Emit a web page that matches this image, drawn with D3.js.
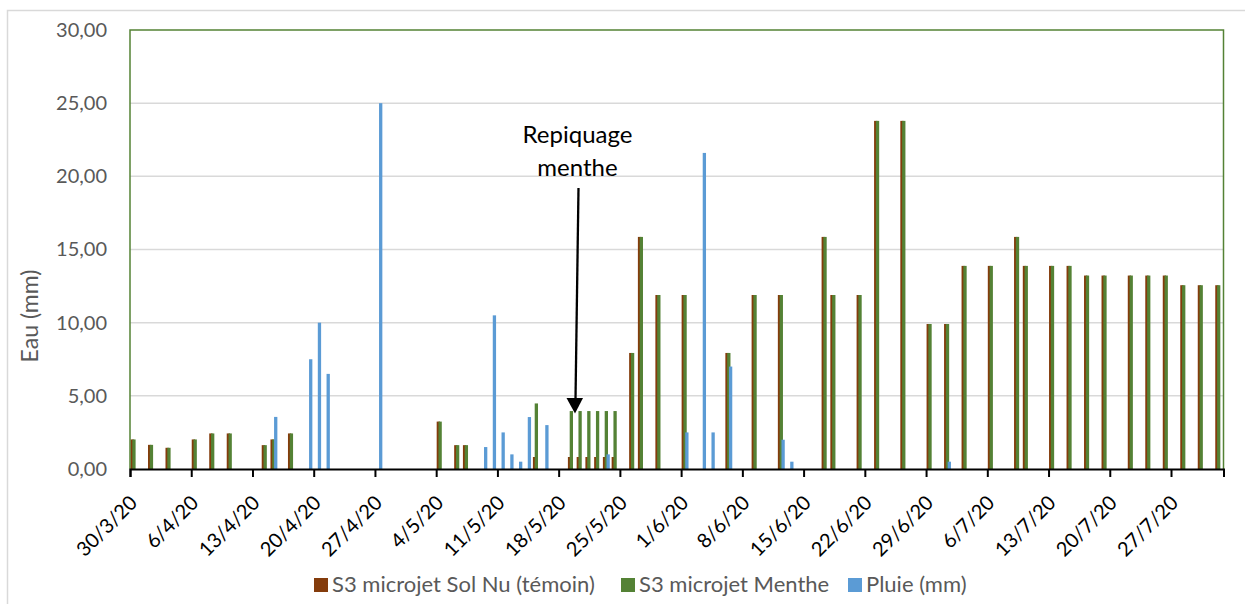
<!DOCTYPE html>
<html>
<head>
<meta charset="utf-8">
<script src="https://cdn.jsdelivr.net/npm/d3@7"></script>
<style>
  body { margin: 0; background: #fff; }
  svg { display: block; font-family: Lato, "Open Sans", sans-serif; }
</style>
</head>
<body>
<div id="chart"></div>
<script>
// categories: one per day, 30/3/20 -> 1/8/20
var firstDay = "30/3/20",
    lastDay = "1/8/20";

var tickLabels = ["30/3/20", "6/4/20", "13/4/20", "20/4/20", "27/4/20", "4/5/20",
  "11/5/20", "18/5/20", "25/5/20", "1/6/20", "8/6/20", "15/6/20", "22/6/20",
  "29/6/20", "6/7/20", "13/7/20", "20/7/20", "27/7/20"];

var yTicks = [0, 5, 10, 15, 20, 25, 30];

// S3 microjet Sol Nu (témoin)
var solNu = [
  ["30/3/20", 2.02], ["1/4/20", 1.65], ["3/4/20", 1.45], ["6/4/20", 2.02],
  ["8/4/20", 2.43], ["10/4/20", 2.43], ["14/4/20", 1.63], ["15/4/20", 2.02],
  ["17/4/20", 2.43], ["4/5/20", 3.24], ["6/5/20", 1.63], ["7/5/20", 1.63],
  ["15/5/20", 0.82], ["19/5/20", 0.82], ["20/5/20", 0.82], ["21/5/20", 0.82],
  ["22/5/20", 0.82], ["23/5/20", 0.82], ["24/5/20", 0.82],
  ["26/5/20", 7.93], ["27/5/20", 15.86], ["29/5/20", 11.89], ["1/6/20", 11.89],
  ["6/6/20", 7.93], ["9/6/20", 11.89], ["12/6/20", 11.89], ["17/6/20", 15.86],
  ["18/6/20", 11.89], ["21/6/20", 11.89], ["23/6/20", 23.79], ["26/6/20", 23.79],
  ["29/6/20", 9.91], ["1/7/20", 9.91], ["3/7/20", 13.88], ["6/7/20", 13.88],
  ["9/7/20", 15.86], ["10/7/20", 13.88], ["13/7/20", 13.88], ["15/7/20", 13.88],
  ["17/7/20", 13.22], ["19/7/20", 13.22], ["22/7/20", 13.22], ["24/7/20", 13.22],
  ["26/7/20", 13.22], ["28/7/20", 12.56], ["30/7/20", 12.56], ["1/8/20", 12.56]
];

// S3 microjet Menthe
var menthe = [
  ["30/3/20", 2.02], ["1/4/20", 1.65], ["3/4/20", 1.45], ["6/4/20", 2.02],
  ["8/4/20", 2.43], ["10/4/20", 2.43], ["14/4/20", 1.63], ["15/4/20", 2.02],
  ["17/4/20", 2.43], ["4/5/20", 3.24], ["6/5/20", 1.63], ["7/5/20", 1.63],
  ["15/5/20", 4.48], ["19/5/20", 3.96], ["20/5/20", 3.96], ["21/5/20", 3.96],
  ["22/5/20", 3.96], ["23/5/20", 3.96], ["24/5/20", 3.96],
  ["26/5/20", 7.93], ["27/5/20", 15.86], ["29/5/20", 11.89], ["1/6/20", 11.89],
  ["6/6/20", 7.93], ["9/6/20", 11.89], ["12/6/20", 11.89], ["17/6/20", 15.86],
  ["18/6/20", 11.89], ["21/6/20", 11.89], ["23/6/20", 23.79], ["26/6/20", 23.79],
  ["29/6/20", 9.91], ["1/7/20", 9.91], ["3/7/20", 13.88], ["6/7/20", 13.88],
  ["9/7/20", 15.86], ["10/7/20", 13.88], ["13/7/20", 13.88], ["15/7/20", 13.88],
  ["17/7/20", 13.22], ["19/7/20", 13.22], ["22/7/20", 13.22], ["24/7/20", 13.22],
  ["26/7/20", 13.22], ["28/7/20", 12.56], ["30/7/20", 12.56], ["1/8/20", 12.56]
];

// Pluie (mm)
var pluie = [
  ["15/4/20", 3.56], ["19/4/20", 7.5], ["20/4/20", 10.0], ["21/4/20", 6.5],
  ["27/4/20", 25.0], ["9/5/20", 1.5], ["10/5/20", 10.5], ["11/5/20", 2.5],
  ["12/5/20", 1.0], ["13/5/20", 0.5], ["14/5/20", 3.55], ["16/5/20", 3.0],
  ["23/5/20", 1.0], ["1/6/20", 2.5], ["3/6/20", 21.6], ["4/6/20", 2.5],
  ["6/6/20", 7.0], ["12/6/20", 2.0], ["13/6/20", 0.5], ["1/7/20", 0.5]
];

var seriesNames = ["S3 microjet Sol Nu (témoin)", "S3 microjet Menthe", "Pluie (mm)"];
var seriesColors = ["#843c0c", "#548235", "#5b9bd5"];

var width = 1245,
    height = 604;

var plot = { left: 130, right: 1223.5, top: 30, bottom: 469 };

var parse = d3.utcParse("%d/%m/%y"),
    fmt = d3.utcFormat("%-d/%-m/%y");

var start = parse(firstDay),
    end = d3.utcDay.offset(parse(lastDay), 1);
var days = d3.utcDay.range(start, end).map(fmt);

var svg = d3.select("#chart").append("svg")
    .attr("width", width)
    .attr("height", height);

// outer chart border
svg.append("rect")
    .attr("x", 7.5).attr("y", 10.5)
    .attr("width", 1260).attr("height", 620)
    .attr("fill", "none")
    .attr("stroke", "#d9d9d9")
    .attr("stroke-width", 1.5);

var x = d3.scaleBand()
    .domain(days)
    .range([plot.left, plot.right])
    .padding(0);

var xTime = d3.scaleUtc()
    .domain([start, end])
    .range([plot.left, plot.right]);

var y = d3.scaleLinear()
    .domain([0, 30])
    .range([plot.bottom, plot.top]);

// offset of each series inside a day (bars overlap like in Excel)
var xs = d3.scalePoint()
    .domain(seriesNames)
    .range([0.5, 4.1]);
var barW = 3.3;

// gridlines
svg.append("g")
  .selectAll("line")
  .data(yTicks.filter(function(d) { return d > 0 && d < 30; }))
  .enter().append("line")
    .attr("x1", plot.left).attr("x2", plot.right)
    .attr("y1", function(d) { return y(d); })
    .attr("y2", function(d) { return y(d); })
    .attr("stroke", "#d9d9d9")
    .attr("stroke-width", 1.5);

// bars
[solNu, menthe, pluie].forEach(function(data, i) {
  svg.append("g")
      .attr("fill", seriesColors[i])
    .selectAll("rect")
    .data(data)
    .enter().append("rect")
      .attr("x", function(d) { return x(d[0]) + xs(seriesNames[i]); })
      .attr("width", barW)
      .attr("y", function(d) { return y(d[1]); })
      .attr("height", function(d) { return y(0) - y(d[1]); });
});

// plot border (left, top, right) in green
svg.append("path")
    .attr("d", "M" + plot.left + "," + plot.bottom + "V" + plot.top + "H" + plot.right + "V" + plot.bottom)
    .attr("fill", "none")
    .attr("stroke", "#548235")
    .attr("stroke-width", 1.5);

// y axis labels
var yAxis = svg.append("g")
    .attr("transform", "translate(" + plot.left + ",0)")
    .call(d3.axisLeft(y)
      .tickValues(yTicks)
      .tickSize(0)
      .tickPadding(23)
      .tickFormat(function(d) { return d3.format(".2f")(d).replace(".", ","); }));
yAxis.select(".domain").remove();
yAxis.selectAll("text")
    .attr("font-family", "Lato, sans-serif")
    .attr("font-size", 20)
    .attr("fill", "#595959");

// x axis
var xAxis = svg.append("g")
    .attr("transform", "translate(0," + plot.bottom + ")")
    .call(d3.axisBottom(xTime)
      .tickValues(tickLabels.map(parse))
      .tickSizeOuter(0)
      .tickSize(8)
      .tickFormat(fmt));
xAxis.select(".domain")
    .attr("stroke", "#000")
    .attr("stroke-width", 2);
xAxis.selectAll(".tick line")
    .attr("stroke", "#000")
    .attr("stroke-width", 2);
xAxis.selectAll("text")
    .attr("font-family", "Lato, sans-serif")
    .attr("font-size", 20)
    .attr("fill", "#000")
    .attr("text-anchor", "end")
    .attr("x", 0).attr("y", 0).attr("dy", 0)
    .attr("transform", "translate(8,35) rotate(-45)");

// y title
svg.append("text")
    .attr("transform", "translate(38,316) rotate(-90)")
    .attr("text-anchor", "middle")
    .attr("font-size", 23)
    .attr("fill", "#595959")
    .text("Eau (mm)");

// annotation
var note = svg.append("g").attr("font-size", 24).attr("fill", "#000").attr("text-anchor", "middle");
note.append("text").attr("x", 577.5).attr("y", 143).text("Repiquage");
note.append("text").attr("x", 577.5).attr("y", 176).text("menthe");
svg.append("line")
    .attr("x1", 578.5).attr("y1", 188)
    .attr("x2", 575.5).attr("y2", 400)
    .attr("stroke", "#000")
    .attr("stroke-width", 2.3);
svg.append("path")
    .attr("d", "M566.5,398L583,398L575,413.5Z")
    .attr("fill", "#000");

// legend
var legendX = [314, 621, 848];
var legend = svg.append("g")
  .selectAll("g")
  .data(seriesNames)
  .enter().append("g")
    .attr("transform", function(d, i) { return "translate(" + legendX[i] + ",578)"; });
legend.append("rect")
    .attr("width", 14).attr("height", 14)
    .attr("fill", function(d, i) { return seriesColors[i]; });
legend.append("text")
    .attr("x", 18).attr("y", 14)
    .attr("font-size", 22)
    .attr("fill", "#595959")
    .text(function(d) { return d; });
</script>
</body>
</html>
